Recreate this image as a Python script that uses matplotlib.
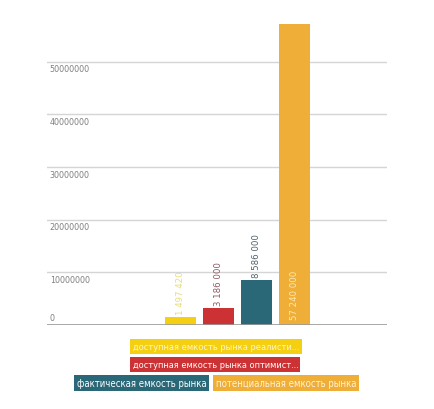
import matplotlib
matplotlib.use("Agg")
import matplotlib.pyplot as plt
from matplotlib.patches import Rectangle
import matplotlib.transforms as mtransforms

plt.rcParams['font.family'] = ['DejaVu Sans']
STRETCH = 'condensed'

categories = ["доступная емкость рынка реалисти...",
              "доступная емкость рынка оптимист...",
              "фактическая емкость рынка",
              "потенциальная емкость рынка"]
values = [1497420, 3186000, 8586000, 57240000]
value_labels = ["1 497 420", "3 186 000", "8 586 000", "57 240 000"]
colors = ["#F5CF12", "#CC3233", "#2A6878", "#EFAE38"]
label_colors = ["#E6DD7A", "#8E5A63", "#50616A", "#FBEAB8"]
yticks = [0, 10000000, 20000000, 30000000, 40000000, 50000000]
ytick_labels = ["0", "10000000", "20000000", "30000000", "40000000", "50000000"]

fig = plt.figure(figsize=(4.34, 4.10), dpi=100)
ax = fig.add_axes([47/434, (410-326)/410, 340/434, 316/410])
ax.set_xlim(-3.513, 5.434)
ax.set_ylim(0, 60000000)
for s in ax.spines.values():
    s.set_visible(False)
ax.set_xticks([])
ax.set_yticks([])

renderer = fig.canvas.get_renderer()

def fit(txt, target_px, horizontal=True):
    fig.canvas.draw()
    bb = txt.get_window_extent(renderer=renderer)
    size = bb.width if horizontal else bb.height
    if size > 0:
        txt.set_fontsize(txt.get_fontsize() * target_px / size)

for t in yticks[1:]:
    ax.axhline(t, color="#D5D5D5", lw=1.0, zorder=0)
ax.axhline(0, color="#9A9A9A", lw=1.2, zorder=3)

tick_texts = []
for t, lab in zip(yticks, ytick_labels):
    if t == 0:
        off = mtransforms.offset_copy(ax.transData, fig=fig, x=2, y=2.5, units='points')
        tx = ax.text(-3.513, t, lab, transform=off, ha='left', va='bottom', fontsize=7.5,
                     color="#808080", fontstretch=STRETCH)
    else:
        off = mtransforms.offset_copy(ax.transData, fig=fig, x=2, y=-2, units='points')
        tx = ax.text(-3.513, t, lab, transform=off, ha='left', va='top', fontsize=7.5,
                     color="#808080", fontstretch=STRETCH)
    tick_texts.append(tx)
fig.canvas.draw()
bb = tick_texts[-1].get_window_extent(renderer=renderer)
scale = 40.0 / bb.width
for tx in tick_texts:
    tx.set_fontsize(7.5 * scale)

xs = list(range(len(values)))
ax.bar(xs, values, width=31/38, color=colors, zorder=2)

val_texts = []
for i, (v, lab, c) in enumerate(zip(values, value_labels, label_colors)):
    if i == 3:
        off = mtransforms.offset_copy(ax.transData, fig=fig, x=0, y=4, units='points')
        tx = ax.text(i, 0, lab, transform=off, rotation=90, ha='center', va='bottom', fontsize=8.3,
                     color=c, zorder=4, fontstretch=STRETCH)
    else:
        off = mtransforms.offset_copy(ax.transData, fig=fig, x=0, y=2, units='points')
        tx = ax.text(i, v, lab, transform=off, rotation=90, ha='center', va='bottom', fontsize=8.3,
                     color=c, zorder=4, fontstretch=STRETCH)
    val_texts.append(tx)
fig.canvas.draw()
bb = val_texts[1].get_window_extent(renderer=renderer)
scale = 43.0 / bb.height
for tx in val_texts:
    tx.set_fontsize(8.3 * scale)

boxes = [(130, 340, 302, 355), (130, 358, 300, 373), (74, 376, 209, 392), (213, 376, 359, 392)]
text_cols = ["#FFF6C8", "#FFFFFF", "#FFFFFF", "#FFF3D8"]
for (x0, y0, x1, y1), c, lab, tc in zip(boxes, colors, categories, text_cols):
    fx0, fx1 = x0/434, x1/434
    fy0, fy1 = (410-y1)/410, (410-y0)/410
    fig.patches.append(Rectangle((fx0, fy0), fx1-fx0, fy1-fy0, transform=fig.transFigure,
                                 facecolor=c, edgecolor='none'))
    tx = fig.text(fx0 + 3/434, (fy0+fy1)/2, lab, ha='left', va='center', fontsize=8.3, color=tc,
                  fontstretch=STRETCH)
    fit(tx, (x1 - x0) - 6)

fig.savefig("out.png", dpi=100)
